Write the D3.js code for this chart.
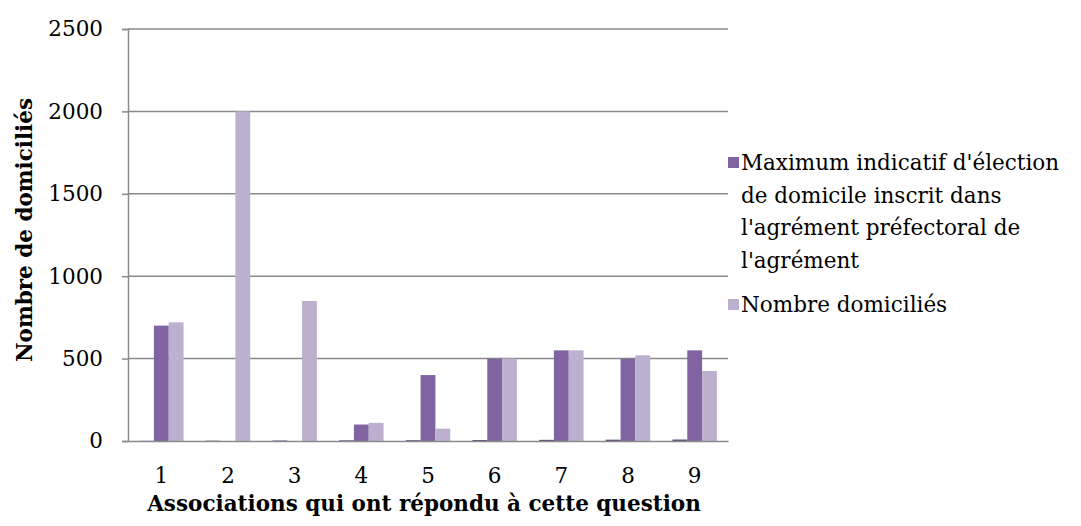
<!DOCTYPE html>
<html>
<head>
<meta charset="utf-8">
<script src="https://cdn.jsdelivr.net/npm/d3@7"></script>
<style>
  html, body { margin: 0; padding: 0; background: #fff; }
  svg { display: block; }
  text { font-family: "DejaVu Serif", "Liberation Serif", serif; fill: #000; }
</style>
</head>
<body>
<svg id="chart" width="1081" height="526"></svg>
<script>
const categories = ["1", "2", "3", "4", "5", "6", "7", "8", "9"];
const seriesNames = ["Associations", "Maximum indicatif d'élection de domicile inscrit dans l'agrément préfectoral de l'agrément", "Nombre domiciliés"];
const associationValues = [1, 2, 3, 4, 5, 6, 7, 8, 9];
const maximumValues = [700, 0, 0, 100, 400, 500, 550, 500, 550];
const nombreValues = [720, 2000, 850, 110, 75, 500, 550, 520, 425];
const yTicks = [0, 500, 1000, 1500, 2000, 2500];
const legendLines = [
  ["Maximum indicatif d'élection", "de domicile inscrit dans", "l'agrément préfectoral de", "l'agrément"],
  ["Nombre domiciliés"]
];
const colors = ["#5f4a7b", "#8064a2", "#bbb0ce"];

const svg = d3.select("#chart");
const mLeft = 128, mRight = 728, mTop = 29, mBottom = 441;

const x = d3.scaleBand().domain(categories).range([mLeft, mRight]).paddingInner(0).paddingOuter(0);
const y = d3.scaleLinear().domain([0, 2500]).range([mBottom, mTop]);

// gridlines
svg.append("g").selectAll("line").data(yTicks.filter(d => d > 0)).join("line")
  .attr("x1", mLeft).attr("x2", mRight)
  .attr("y1", d => y(d)).attr("y2", d => y(d))
  .attr("stroke", "#8a8a8a").attr("stroke-width", 1.5);

// bars
const series = [associationValues, maximumValues, nombreValues];
const barW = x.bandwidth() / 4.5;
const inner = d3.scaleBand().domain([0, 1, 2]).range([0, barW * 3]);
const offset = (x.bandwidth() - barW * 3) / 2;
series.forEach((vals, si) => {
  svg.append("g").selectAll("rect").data(vals).join("rect")
    .attr("x", (d, i) => x(categories[i]) + offset + inner(si))
    .attr("width", inner.bandwidth())
    .attr("y", d => y(d))
    .attr("height", d => y(0) - y(d))
    .attr("fill", colors[si]);
});

// y axis
const yAxis = d3.axisLeft(y).tickValues(yTicks).tickSize(6).tickPadding(19).tickFormat(d3.format("d"));
const yg = svg.append("g").attr("transform", `translate(${mLeft},0)`).call(yAxis);
yg.select(".domain").attr("stroke", "#8a8a8a").attr("stroke-width", 1.5);
yg.selectAll(".tick line").attr("stroke", "#8a8a8a").attr("stroke-width", 1.5);
yg.selectAll(".tick text").style("font-family", "DejaVu Serif").style("font-size", "21.5px").attr("fill", "#000");

// x axis
const xAxis = d3.axisBottom(x).tickSize(0).tickPadding(27);
const xg = svg.append("g").attr("transform", `translate(0,${mBottom})`).call(xAxis);
xg.select(".domain").attr("stroke", "#8a8a8a").attr("stroke-width", 1.5);
xg.selectAll(".tick text").style("font-family", "DejaVu Serif").style("font-size", "21.5px").attr("fill", "#000");

// axis titles
svg.append("text")
  .attr("x", 424).attr("y", 511)
  .attr("text-anchor", "middle")
  .style("font-weight", "bold").style("font-size", "21.5px")
  .text("Associations qui ont répondu à cette question");

svg.append("text")
  .attr("transform", "translate(32,230) rotate(-90)")
  .attr("text-anchor", "middle")
  .style("font-weight", "bold").style("font-size", "21.5px")
  .text("Nombre de domiciliés");

// legend
const lg = svg.append("g");
const legendColors = [colors[1], colors[2]];
const entryY = [157, 299];
legendLines.forEach((lines, i) => {
  lg.append("rect").attr("x", 728).attr("y", entryY[i]).attr("width", 11).attr("height", 11).attr("fill", legendColors[i]);
  lines.forEach((ln, j) => {
    lg.append("text").attr("x", 741).attr("y", entryY[i] + 13 + j * 32.7)
      .style("font-size", "21.5px").text(ln);
  });
});
</script>
</body>
</html>
